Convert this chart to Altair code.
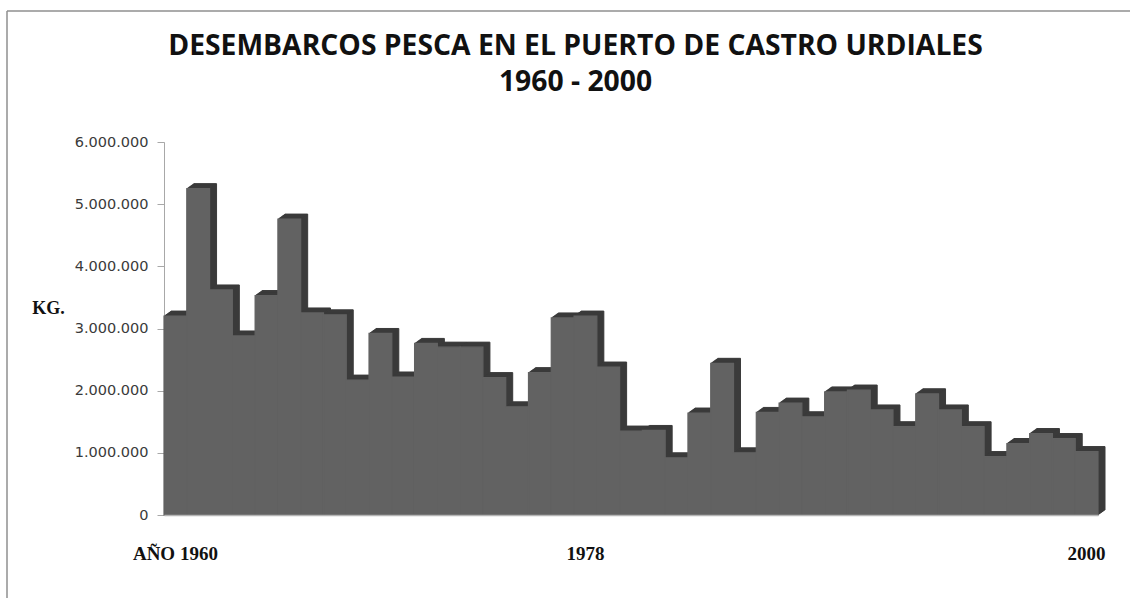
import altair as alt
import pandas as pd

# Annual fish landings at the port of Castro Urdiales (kg)
years = list(range(1960, 2001))
landings_kg = [
    3200000, 5250000, 3620000, 2880000, 3530000, 4760000, 3250000, 3220000,
    2170000, 2920000, 2220000, 2760000, 2700000, 2700000, 2210000, 1740000,
    2290000, 3170000, 3200000, 2380000, 1350000, 1360000, 920000, 1640000,
    2440000, 1000000, 1650000, 1800000, 1580000, 1980000, 2010000, 1690000,
    1420000, 1950000, 1690000, 1420000, 940000, 1150000, 1310000, 1230000,
    1020000,
]
y_ticks = [0, 1000000, 2000000, 3000000, 4000000, 5000000, 6000000]
x_label_years = [1960, 1978, 2000]
title_line1 = "DESEMBARCOS PESCA EN EL PUERTO DE CASTRO URDIALES"
title_line2 = "1960 - 2000"

df = pd.DataFrame({"year": years, "kg": landings_kg})

FRONT = "#626262"
SIDE = "#3b3b3b"
DEPTH_X = 7
DEPTH_Y = 5
W, H = 934, 373

x_enc = alt.X(
    "year:O",
    scale=alt.Scale(paddingInner=0, paddingOuter=0),
    axis=alt.Axis(
        values=x_label_years,
        labelExpr="datum.value == 1960 ? 'AÑO 1960' : datum.label",
        labelAngle=0,
        labelFont="Liberation Serif",
        labelFontWeight="bold",
        labelFontSize=19,
        labelColor="#111111",
        labelBaseline="middle",
        labelPadding=38,
        ticks=False,
        grid=False,
        domainColor="#b5b5b5",
        domainWidth=1.5,
        zindex=1,
        title=None,
    ),
)
y_enc = alt.Y(
    "kg:Q",
    scale=alt.Scale(domain=[0, 6000000], nice=False),
    axis=alt.Axis(
        values=y_ticks,
        labelExpr="replace(format(datum.value, ','), regexp(',', 'g'), '.')",
        labelFont="DejaVu Sans",
        labelFontSize=14.5,
        labelColor="#3a3a3a",
        labelPadding=9,
        tickSize=7,
        tickColor="#a8a8a8",
        domainColor="#a8a8a8",
        grid=False,
        title="KG.",
        titleAngle=0,
        titleX=-116,
        titleY=166,
        titleAlign="center",
        titleBaseline="middle",
        titleFont="Liberation Serif",
        titleFontWeight="bold",
        titleFontSize=18,
        titleColor="#111111",
    ),
)

one = pd.DataFrame({"a": [0]})

# plain white edges along the top and right of the plotting area
edge_top = alt.Chart(one).mark_rule(color="white", strokeWidth=4).encode(
    x=alt.value(1), x2=alt.value(W + 14), y=alt.value(0)
)
edge_right = alt.Chart(one).mark_rule(color="white", strokeWidth=4).encode(
    x=alt.value(W + 1), y=alt.value(0), y2=alt.value(H)
)

base = alt.Chart(df)

# extruded "depth" of the columns: stacked copies shifted up and to the right
depth_layers = []
for k in range(DEPTH_X, 0, -1):
    dy = -k * DEPTH_Y / DEPTH_X
    depth_layers.append(
        base.mark_bar(color=SIDE, stroke=SIDE, strokeWidth=1,
                      xOffset=k, x2Offset=k, yOffset=dy, y2Offset=dy)
        .encode(x=x_enc, y=y_enc)
    )

front = base.mark_bar(color=FRONT, stroke=FRONT, strokeWidth=1.2).encode(x=x_enc, y=y_enc)

# two-line heading
def heading_line(text, ypos):
    return alt.Chart(pd.DataFrame({"line": [text]})).mark_text(
        font="Open Sans", fontSize=28.3, fontWeight="bold", color="#111111",
        align="center", baseline="alphabetic",
    ).encode(text="line:N", x=alt.value(411.5), y=alt.value(ypos))

heading1 = heading_line(title_line1, -87)
heading2 = heading_line(title_line2, -51)

# thin frame around the chart (left and top edges)
frame_left = alt.Chart(one).mark_rule(color="#8f8f8f", strokeWidth=1.5).encode(
    x=alt.value(-157), y=alt.value(-131), y2=alt.value(460)
)
frame_top = alt.Chart(one).mark_rule(color="#8f8f8f", strokeWidth=1.5).encode(
    x=alt.value(-157), x2=alt.value(W + 40), y=alt.value(-131)
)

chart = (
    alt.layer(edge_top, edge_right, *depth_layers, front, heading1, heading2,
              frame_left, frame_top)
    .properties(
        width=W,
        height=H,
        autosize=alt.AutoSizeParams(type="none"),
        padding={"left": 164, "top": 142, "right": 32, "bottom": 83},
    )
    .configure_view(strokeWidth=0)
    .configure(background="white")
)

chart.save("out.html", embed_options={"renderer": "svg", "actions": False})
